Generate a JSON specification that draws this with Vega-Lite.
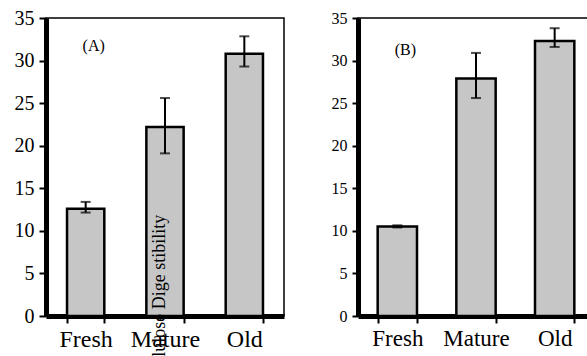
{
  "$schema": "https://vega.github.io/schema/vega-lite/v6.json",
  "padding": {"left": 13, "top": 7, "right": 0, "bottom": 0},
  "spacing": 45,
  "config": {
    "axis": {"domainWidth": 5, "domainColor": "black", "tickColor": "black", "tickWidth": 2, "tickSize": 7, "grid": false, "labelColor": "black"}
  },
  "datasets": {
    "A": [
      {"age": "Fresh", "value": 12.6, "lo": 12.15, "hi": 13.4},
      {"age": "Mature", "value": 22.2, "lo": 19.1, "hi": 25.6},
      {"age": "Old", "value": 30.8, "lo": 29.3, "hi": 32.85}
    ],
    "B": [
      {"age": "Fresh", "value": 10.5, "lo": 10.4, "hi": 10.65},
      {"age": "Mature", "value": 27.9, "lo": 25.6, "hi": 30.9},
      {"age": "Old", "value": 32.3, "lo": 31.6, "hi": 33.8}
    ],
    "labA": [{"age": "Fresh", "value": 31.7, "label": "(A)"}],
    "labB": [{"age": "Fresh", "value": 31.2, "label": "(B)"}],
    "ylab": [{"age": "Mature", "value": 11.9, "label": "Cellulose Dige stibility"}]
  },
  "hconcat": [
    {
      "width": 238,
      "height": 298,
      "view": {"stroke": "black", "strokeWidth": 1.5},
      "layer": [
        {"data": {"name": "A"}, "mark": {"type": "bar", "fill": "#c6c6c6", "stroke": "black", "strokeWidth": 2.5},
          "encoding": {
            "x": {"field": "age", "type": "nominal",
              "scale": {"domain": ["Fresh", "Mature", "Old"], "paddingInner": 0.53, "paddingOuter": 0.265},
              "axis": {"title": null, "labelAngle": 0, "labelFont": "Liberation Serif", "labelFontSize": 24, "labelOverlap": false, "tickBand": "extent", "labelPadding": 4}},
            "y": {"field": "value", "type": "quantitative",
              "scale": {"domain": [0, 35], "nice": false},
              "axis": {"title": null, "values": [0, 5, 10, 15, 20, 25, 30, 35], "labelFont": "Liberation Serif", "labelFontSize": 20, "labelPadding": 5}}
          }},
        {"data": {"name": "A"}, "mark": {"type": "rule", "color": "black", "strokeWidth": 2}, "encoding": {"x": {"field": "age", "type": "nominal"}, "y": {"field": "lo", "type": "quantitative"}, "y2": {"field": "hi"}}},
        {"data": {"name": "A"}, "mark": {"type": "tick", "color": "black", "thickness": 2, "size": 10}, "encoding": {"x": {"field": "age", "type": "nominal"}, "y": {"field": "lo", "type": "quantitative"}}},
        {"data": {"name": "A"}, "mark": {"type": "tick", "color": "black", "thickness": 2, "size": 10}, "encoding": {"x": {"field": "age", "type": "nominal"}, "y": {"field": "hi", "type": "quantitative"}}},
        {"data": {"name": "labA"}, "mark": {"type": "text", "font": "Liberation Serif", "fontSize": 16, "dx": 8, "color": "black"}, "encoding": {"x": {"field": "age", "type": "nominal"}, "y": {"field": "value", "type": "quantitative"}, "text": {"field": "label"}}},
        {"data": {"name": "ylab"}, "mark": {"type": "text", "font": "Liberation Serif", "fontSize": 18, "angle": 270, "align": "right", "baseline": "alphabetic", "color": "black", "clip": false}, "encoding": {"x": {"field": "age", "type": "nominal"}, "y": {"field": "value", "type": "quantitative"}, "text": {"field": "label"}}}
      ]
    },
    {
      "width": 236,
      "height": 298,
      "view": {"stroke": "black", "strokeWidth": 1.5},
      "layer": [
        {"data": {"name": "B"}, "mark": {"type": "bar", "fill": "#c6c6c6", "stroke": "black", "strokeWidth": 2.5},
          "encoding": {
            "x": {"field": "age", "type": "nominal",
              "scale": {"domain": ["Fresh", "Mature", "Old"], "paddingInner": 0.5, "paddingOuter": 0.25},
              "axis": {"title": null, "labelAngle": 0, "labelFont": "Liberation Serif", "labelFontSize": 23, "labelOverlap": false, "tickBand": "extent", "labelPadding": 4}},
            "y": {"field": "value", "type": "quantitative",
              "scale": {"domain": [0, 35], "nice": false},
              "axis": {"title": null, "values": [0, 5, 10, 15, 20, 25, 30, 35], "labelFont": "Liberation Serif", "labelFontSize": 16, "tickSize": 6, "labelPadding": 5}}
          }},
        {"data": {"name": "B"}, "mark": {"type": "rule", "color": "black", "strokeWidth": 2}, "encoding": {"x": {"field": "age", "type": "nominal"}, "y": {"field": "lo", "type": "quantitative"}, "y2": {"field": "hi"}}},
        {"data": {"name": "B"}, "mark": {"type": "tick", "color": "black", "thickness": 2, "size": 10}, "encoding": {"x": {"field": "age", "type": "nominal"}, "y": {"field": "lo", "type": "quantitative"}}},
        {"data": {"name": "B"}, "mark": {"type": "tick", "color": "black", "thickness": 2, "size": 10}, "encoding": {"x": {"field": "age", "type": "nominal"}, "y": {"field": "hi", "type": "quantitative"}}},
        {"data": {"name": "labB"}, "mark": {"type": "text", "font": "Liberation Serif", "fontSize": 16, "dx": 8, "color": "black"}, "encoding": {"x": {"field": "age", "type": "nominal"}, "y": {"field": "value", "type": "quantitative"}, "text": {"field": "label"}}}
      ]
    }
  ]
}
